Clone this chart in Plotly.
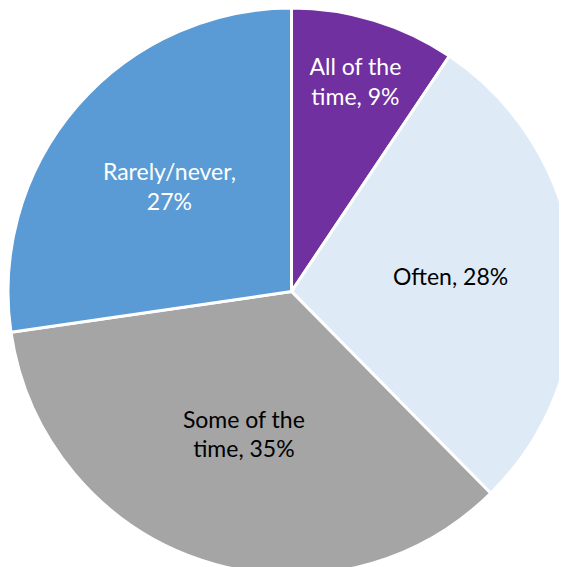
import plotly.graph_objects as go

labels = ["All of the time", "Often", "Some of the time", "Rarely/never"]
values = [9.4, 28.2, 35.1, 27.3]
text_labels = ["All of the<br>time, 9%", "Often, 28%", "Some of the<br>time, 35%", "Rarely/never,<br>27%"]
colors = ["#7030A0", "#DEEBF7", "#A5A5A5", "#5B9BD5"]
text_colors = ["white", "black", "black", "white"]

fig = go.Figure(
    go.Pie(
        labels=labels,
        values=values,
        text=text_labels,
        texttemplate="%{text}",
        textposition="inside",
        insidetextorientation="horizontal",
        insidetextfont=dict(color=text_colors, size=23, family="Lato"),
        marker=dict(colors=colors, line=dict(color="white", width=3)),
        sort=False,
        direction="clockwise",
        rotation=0,
        hoverinfo="label+percent",
        domain=dict(x=[0.0, 1], y=[0, 1]),
    )
)
fig.update_layout(
    width=567,
    height=567,
    showlegend=False,
    paper_bgcolor="white",
    margin=dict(l=0, r=0, t=0, b=0),
)
fig.write_html("out.html")
